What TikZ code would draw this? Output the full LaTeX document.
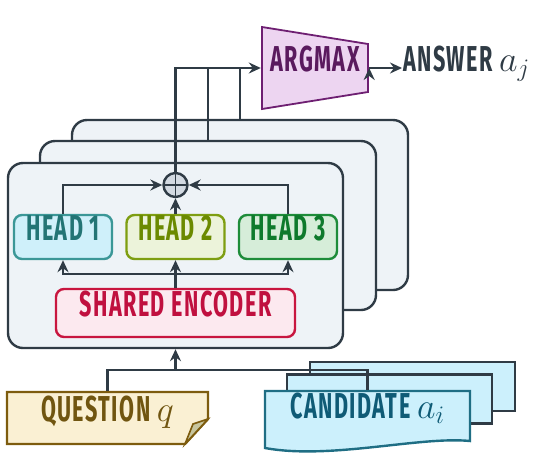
\RequirePackage{fix-cm}
\documentclass[tikz,border=0pt]{standalone}
\usepackage{amsmath}
\usepackage{fontspec}
\setmainfont{Fira Sans}[FakeStretch=0.6,LetterSpace=4]
\usetikzlibrary{arrows.meta}

\definecolor{ink}{HTML}{2F3B45}
\definecolor{panelfill}{HTML}{EEF3F7}
\definecolor{sumfill}{HTML}{D3DAE2}
\definecolor{hafill}{HTML}{CFF0FA}\definecolor{haline}{HTML}{3B9797}\definecolor{hatext}{HTML}{237575}
\definecolor{hbfill}{HTML}{ECF3DA}\definecolor{hbline}{HTML}{7E9E12}\definecolor{hbtext}{HTML}{6B8A00}
\definecolor{hcfill}{HTML}{D6EDD9}\definecolor{hcline}{HTML}{1E8C3A}\definecolor{hctext}{HTML}{0E7A2C}
\definecolor{encfill}{HTML}{FCE9EF}\definecolor{encline}{HTML}{C8163F}\definecolor{enctext}{HTML}{C0103F}
\definecolor{amfill}{HTML}{EDD5F1}\definecolor{amline}{HTML}{6E1F72}\definecolor{amtext}{HTML}{5A1A5E}
\definecolor{qfill}{HTML}{FAF0D3}\definecolor{qline}{HTML}{7D5C0E}\definecolor{qtext}{HTML}{705510}\definecolor{qfold}{HTML}{C8C69E}
\definecolor{cfill}{HTML}{CCF0FC}\definecolor{cline}{HTML}{1F6E84}\definecolor{ctext}{HTML}{0F5B76}

\newcommand\boxfont{\fontsize{36}{40}\selectfont\bfseries}

\begin{document}
\begin{tikzpicture}[x=1pt,y=-1pt,line width=2.4pt,>={Stealth[length=12pt,width=11pt,inset=4pt]},
  node distance=112.5pt,
  panel/.style={draw=ink,fill=panelfill,rounded corners=15pt,minimum width=336pt,inner sep=0pt},
  head/.style={rounded corners=8pt,minimum width=98pt,minimum height=44pt,inner sep=0pt,font=\boxfont,text height=0.69em,text depth=0pt},
  txt/.style={inner sep=0pt,font=\boxfont,text height=0.69em,text depth=0pt},
  card/.style={draw=ink,fill=cfill,minimum width=205pt,minimum height=49pt,inner sep=0pt},
  wire/.style={draw=ink,line width=2.4pt}]
\useasboundingbox (0,0) rectangle (536,456);

% stacked model copies
\node[panel,minimum height=170pt] (p3) at (240,205) {};
\node[panel,minimum height=169pt] (p2) at (208,225.5) {};
\node[panel,minimum width=335pt,minimum height=185pt] (p1) at (175.5,255.5) {};

\node[head,draw=haline,fill=hafill,text=hatext] (h1) at (63,237) {HEAD 1};
\node[head,draw=hbline,fill=hbfill,text=hbtext,right of=h1] (h2) {HEAD 2};
\node[head,draw=hcline,fill=hcfill,text=hctext,right of=h2] (h3) {HEAD 3};
\node[draw=ink,fill=sumfill,circle,minimum size=24pt,inner sep=0pt,
  path picture={\draw[ink,line width=1.8pt] (path picture bounding box.north) -- (path picture bounding box.south)
  (path picture bounding box.west) -- (path picture bounding box.east);}] (sum) at (175.5,185) {};
\node[txt,draw=encline,fill=encfill,text=enctext,rounded corners=8pt,minimum width=239pt,minimum height=48pt] (enc) at (175.5,313) {SHARED ENCODER};

% argmax and answer
\filldraw[draw=amline,fill=amfill,line width=1.8pt] (262,27) -- (368,44) -- (368,92) -- (262,109) -- cycle;
\node[txt,text=amtext,minimum width=106pt] (amax) at (315,68) {ARGMAX};
\node[txt,text=ink,anchor=west] (ans) at (402,68) {ANSWER $a_j$};

% inputs
\filldraw[draw=qline,fill=qfill] (7,392) -- (208,392) -- (208,419) -- (185,444) -- (7,444) -- cycle;
\filldraw[draw=qline,fill=qfold,line width=1.6pt] (185,444) -- (193,424) -- (208,419) -- cycle;
\node[txt,text=qtext,minimum width=201pt,minimum height=52pt] (qn) at (107.5,418) {QUESTION $q$};
\node[card] (cand3) at (412.5,386.5) {};
\node[card] (cand2) at (389.5,399) {};
\filldraw[draw=cline,fill=cfill] (265,391) -- (470,391) -- (470,441) .. controls (420,436) and (330,460) .. (265,448) -- cycle;
\node[txt,text=ctext,minimum width=205pt,minimum height=48pt] (cand) at (367.5,415) {CANDIDATE $a_i$};

% connectors
\coordinate (fork) at (175.5,274);
\coordinate (join) at (175.5,370);
\path[wire,->]
  (enc.north) edge (h2.south)
  (h2.north) edge (sum.south)
  (join) edge (p1.south)
  (amax.east) edge (ans.west);
\draw[wire,->] (fork) -| (h1.south);
\draw[wire,->] (fork) -| (h3.south);
\draw[wire,->] (h1.north) |- (sum.west);
\draw[wire,->] (h3.north) |- (sum.east);
\draw[wire,->] (sum.north) |- (amax.west);
\draw[wire] (p2.north) -- (p2.north |- amax.west);
\draw[wire] (p3.north) -- (p3.north |- amax.west);
\draw[wire] (qn.north) |- (join) -| (cand.north);
\end{tikzpicture}
\end{document}
